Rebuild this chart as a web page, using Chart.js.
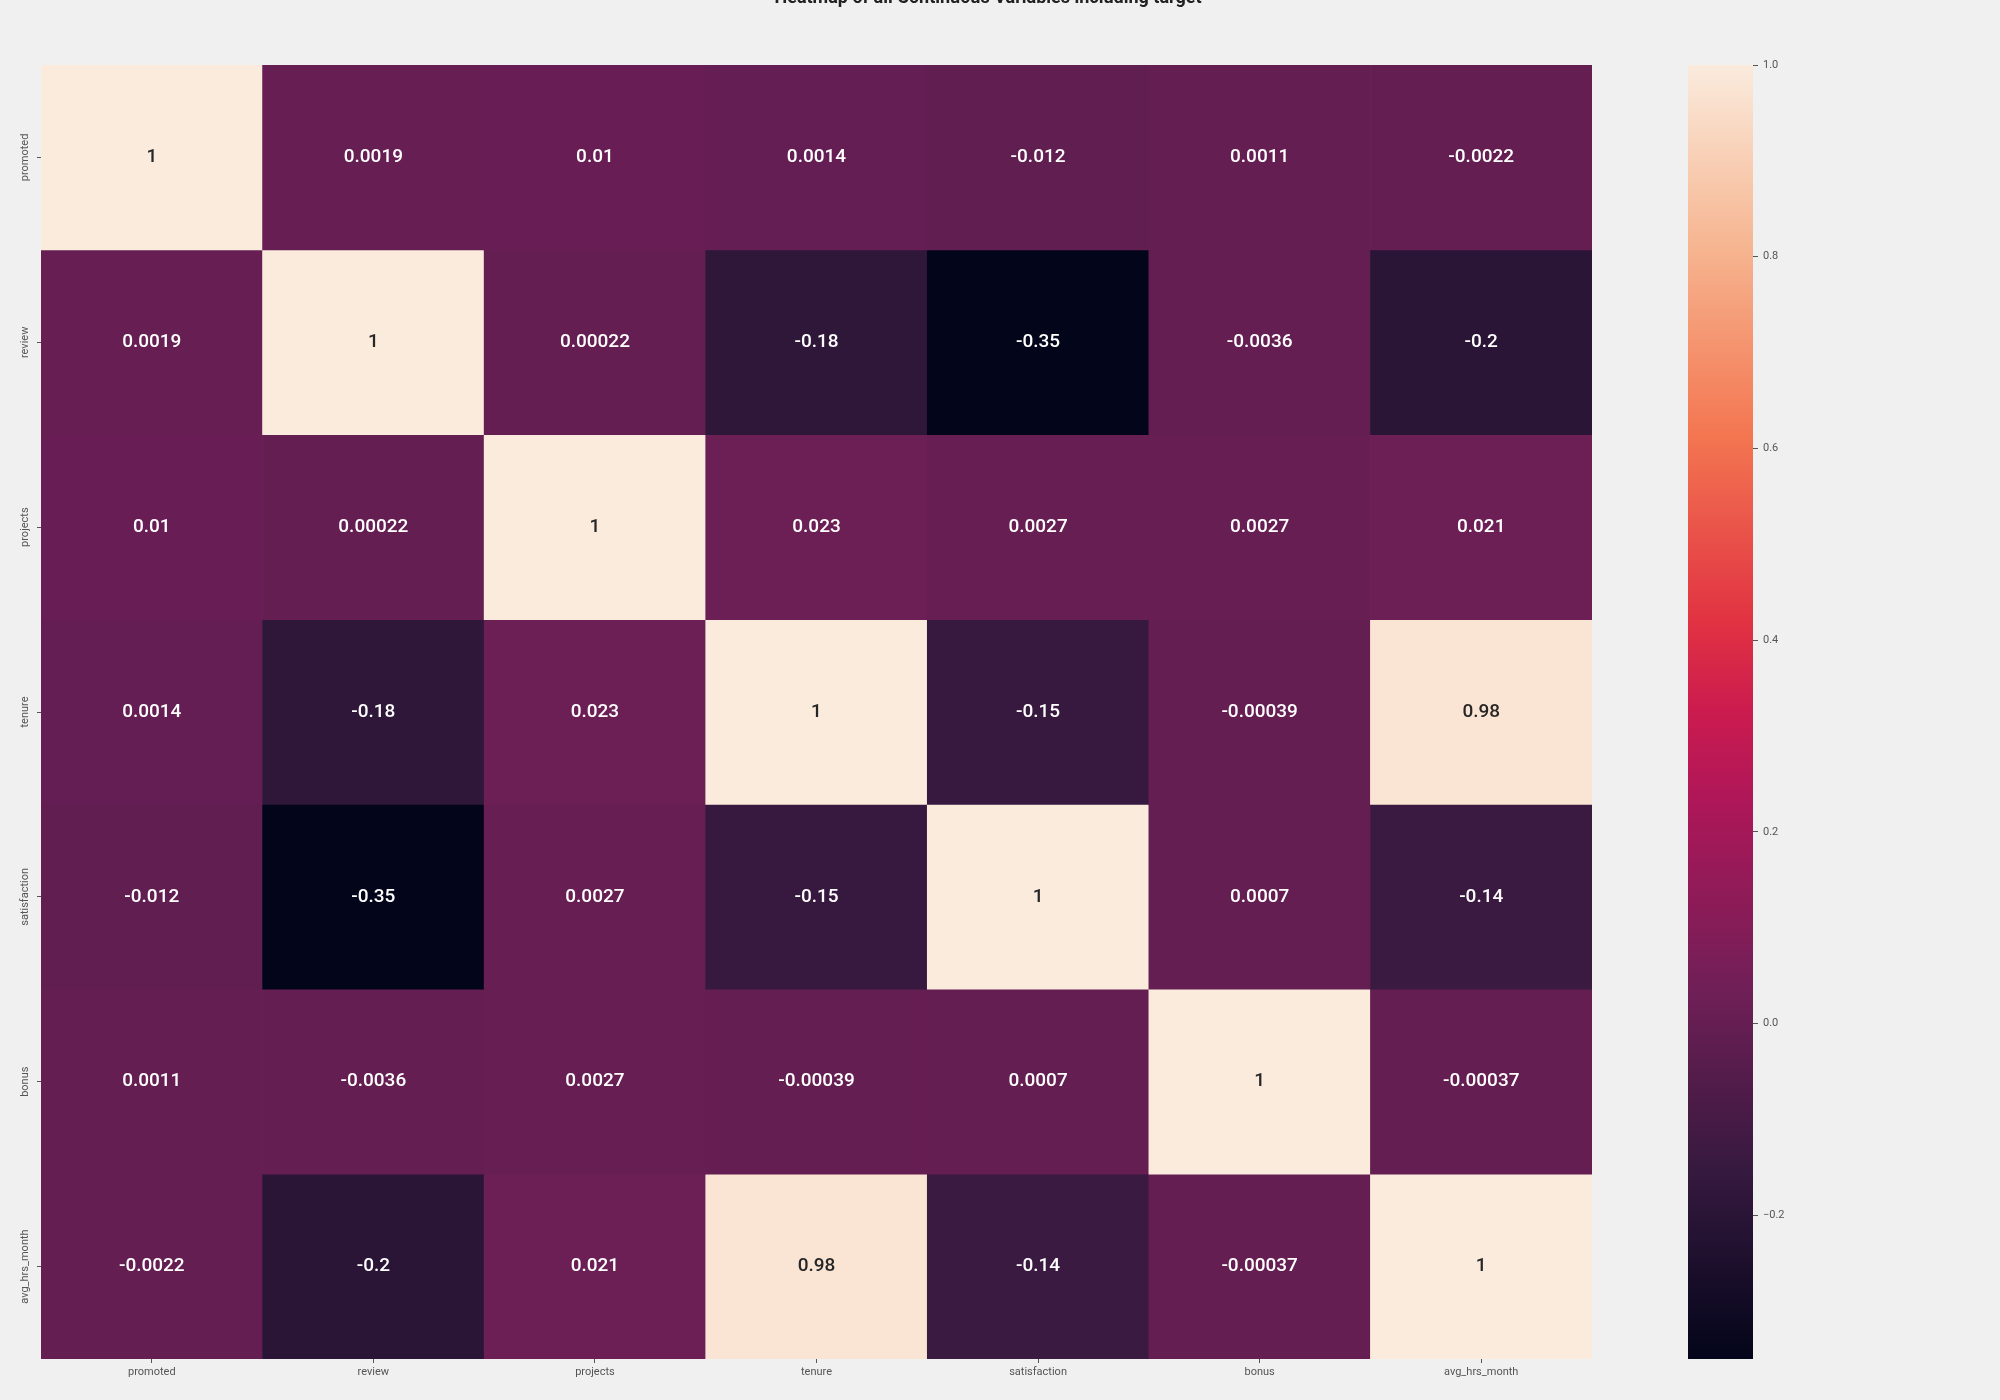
<!DOCTYPE html>
<html><head><meta charset="utf-8">
<script src="https://cdn.jsdelivr.net/npm/chart.js@4.4.0/dist/chart.umd.min.js"></script>
<style>
html,body{margin:0;padding:0;background:#f0f0f0;}
#wrap{position:relative;width:2000px;height:1400px;overflow:hidden;}
canvas{position:absolute;left:0;top:0;}
</style></head><body>
<div id="wrap"><canvas id="heat" width="2000" height="1400"></canvas><canvas id="cbar" width="2000" height="1400"></canvas></div>
<script>
// ---- data ----
const categories = ['promoted','review','projects','tenure','satisfaction','bonus','avg_hrs_month'];
const promotedRow     = [1, 0.0019, 0.01, 0.0014, -0.012, 0.0011, -0.0022];
const reviewRow       = [0.0019, 1, 0.00022, -0.18, -0.35, -0.0036, -0.2];
const projectsRow     = [0.01, 0.00022, 1, 0.023, 0.0027, 0.0027, 0.021];
const tenureRow       = [0.0014, -0.18, 0.023, 1, -0.15, -0.00039, 0.98];
const satisfactionRow = [-0.012, -0.35, 0.0027, -0.15, 1, 0.0007, -0.14];
const bonusRow        = [0.0011, -0.0036, 0.0027, -0.00039, 0.0007, 1, -0.00037];
const avgHrsMonthRow  = [-0.0022, -0.2, 0.021, 0.98, -0.14, -0.00037, 1];
const colorbarTicks = [-0.2, 0, 0.2, 0.4, 0.6, 0.8, 1.0];
const titleText = 'Heatmap of all Continuous Variables including target';

const rows = [promotedRow, reviewRow, projectsRow, tenureRow, satisfactionRow, bonusRow, avgHrsMonthRow];
const allVals = rows.flat();
const vmin = Math.min(...allVals), vmax = Math.max(...allVals);

// ---- rocket colormap ----
const rocketStops = [
  [0.0,'#03051a'],[0.143,'#35193e'],[0.286,'#701f57'],[0.429,'#ad1759'],
  [0.5,'#cb1b4f'],[0.571,'#e13342'],[0.714,'#f37651'],[0.857,'#f6b48f'],[1.0,'#faebdd']
];
function hex2rgb(h){return [parseInt(h.slice(1,3),16),parseInt(h.slice(3,5),16),parseInt(h.slice(5,7),16)];}
function cmapRGB(v){
  let t=(v-vmin)/(vmax-vmin); t=Math.max(0,Math.min(1,t));
  for(let i=1;i<rocketStops.length;i++){
    if(t<=rocketStops[i][0]){
      const [p0,c0]=rocketStops[i-1],[p1,c1]=rocketStops[i];
      const f=(t-p0)/(p1-p0); const a=hex2rgb(c0), b=hex2rgb(c1);
      return a.map((x,k)=>Math.round(x+(b[k]-x)*f));
    }
  }
  return hex2rgb(rocketStops[rocketStops.length-1][1]);
}
function cmap(v){const c=cmapRGB(v);return `rgb(${c[0]},${c[1]},${c[2]})`;}
function lum(c){const l=c.map(x=>{x/=255;return x<=0.03928?x/12.92:Math.pow((x+0.055)/1.055,2.4);});return 0.2126*l[0]+0.7152*l[1]+0.0722*l[2];}
function fmt2g(v){let s=Number(v).toPrecision(2);if(s.indexOf('e')<0&&s.indexOf('.')>=0){s=s.replace(/0+$/,'').replace(/\.$/,'');}return s;}

const FONT='Roboto';
const TICKC='#555555';

const datasets = rows.map((row,r)=>({
  label: categories[r],
  data: row.map(()=>[r, r+1]),
  values: row,
  backgroundColor: row.map(v=>cmap(v)),
  borderColor: row.map(v=>cmap(v)),
  borderWidth: 0,
  barPercentage: 1,
  categoryPercentage: 1,
  yAxisID: 'y'
}));

const bgPlugin = {id:'bg', beforeDraw(chart){const c=chart.ctx;c.save();c.fillStyle='#f0f0f0';c.fillRect(0,0,chart.width,chart.height);c.restore();}};
const annotPlugin = {id:'annot', afterDatasetsDraw(chart){
  const c=chart.ctx; c.save();
  c.font=`500 19px ${FONT}`; c.textAlign='center'; c.textBaseline='middle';
  chart.data.datasets.forEach((ds,di)=>{
    const meta=chart.getDatasetMeta(di);
    meta.data.forEach((el,i)=>{
      const v=ds.values[i];
      const col=cmapRGB(v);
      c.fillStyle = lum(col)>0.408 ? '#262626' : '#ffffff';
      c.fillText(fmt2g(v), el.x, (el.y+el.base)/2);
    });
  });
  // y labels (rotated)
  const yl=chart.scales.yl;
  c.font=`11px ${FONT}`; c.fillStyle=TICKC;
  categories.forEach((lab,i)=>{
    const y=yl.getPixelForTick(i);
    c.save(); c.translate(25,y); c.rotate(-Math.PI/2); c.textAlign='center'; c.textBaseline='middle'; c.fillText(lab,0,0); c.restore();
  });
  // title (cut off at top)
  c.font=`bold 18px ${FONT}`; c.fillStyle='#222222'; c.textAlign='center'; c.textBaseline='alphabetic';
  c.fillText(titleText, 988, 3);
  c.restore();
}};

new Chart(document.getElementById('heat'), {
  type:'bar',
  data:{labels: categories, datasets},
  options:{
    responsive:false, animation:false,
    layout:{padding:{left:0, top:65, right:408, bottom:0}},
    plugins:{legend:{display:false}, tooltip:{enabled:false}},
    scales:{
      x:{type:'category', offset:true, stacked:true,
         grid:{display:true, drawOnChartArea:false, drawTicks:true, tickLength:4, color:TICKC, offset:false},
         border:{display:false},
         ticks:{color:TICKC, font:{family:FONT, size:11}, padding:3, maxRotation:0, minRotation:0, autoSkip:false},
         afterFit(s){s.height=41;}},
      y:{type:'linear', min:0, max:7, reverse:true, display:false},
      yl:{type:'category', labels:categories, position:'left', offset:true,
          grid:{display:true, drawOnChartArea:false, drawTicks:true, tickLength:4, color:TICKC, offset:false},
          border:{display:false},
          ticks:{display:false},
          afterFit(s){s.width=41;}}
    }
  },
  plugins:[bgPlugin, annotPlugin]
});

// ---- colorbar ----
function gradFill(ctx){
  const chart=ctx.chart; const area=chart.chartArea; if(!area) return '#888';
  const g=chart.ctx.createLinearGradient(0, area.bottom, 0, area.top);
  rocketStops.forEach(s=>g.addColorStop(s[0], s[1]));
  return g;
}
new Chart(document.getElementById('cbar'), {
  type:'bar',
  data:{labels:['cb'], datasets:[{data:[[vmin, vmax]], backgroundColor:gradFill, borderWidth:0, barPercentage:1, categoryPercentage:1}]},
  options:{
    responsive:false, animation:false,
    layout:{padding:{left:1688, top:65, right:187, bottom:41}},
    plugins:{legend:{display:false}, tooltip:{enabled:false}},
    scales:{
      x:{display:false},
      y:{position:'right', min:vmin, max:vmax,
         afterBuildTicks(s){s.ticks=colorbarTicks.map(v=>({value:v}));},
         ticks:{color:TICKC, font:{family:FONT, size:11}, padding:5,
                callback(v){return Number(v).toFixed(1).replace('-','\u2212');}},
         grid:{display:true, drawOnChartArea:false, drawTicks:true, tickLength:5, color:TICKC},
         border:{display:false},
         afterFit(s){s.width=60;}}
    }
  }
});
</script>
</body></html>
